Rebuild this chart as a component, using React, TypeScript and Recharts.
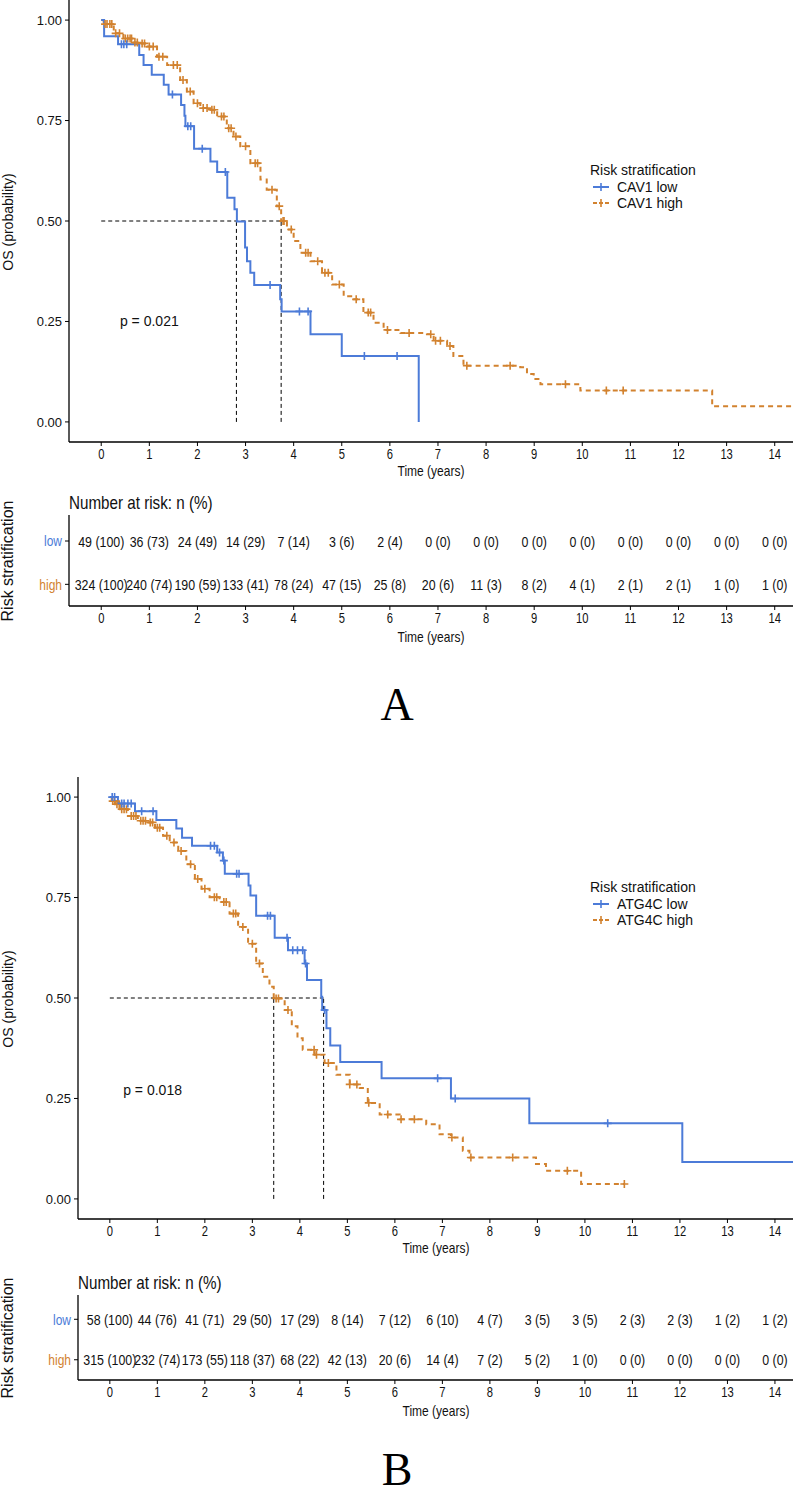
import React from "react";
import { ComposedChart, Line, Scatter, XAxis, YAxis, ReferenceLine, ReferenceDot } from "recharts";

const SANS = "'Liberation Sans', Arial, Helvetica, sans-serif";
const SERIF = "'Liberation Serif', 'Times New Roman', serif";
const SQUEEZE = 0.8; // the reference draws time ticks and the risk table in a narrow face
const BLUE = "#4C7BD8";
const ORANGE = "#D2822F";
const INK = "#111";

const X_TICKS = [0, 1, 2, 3, 4, 5, 6, 7, 8, 9, 10, 11, 12, 13, 14];
const Y_TICKS = [0, 0.25, 0.5, 0.75, 1];
const X_DOMAIN: [number, number] = [-0.67, 14.38];

// ---- Panel A : CAV1 ----
const aLowT = [0, 0.06, 0.35, 0.79, 0.88, 1.05, 1.3, 1.4, 1.66, 1.73, 1.75, 1.93, 2.27, 2.41, 2.62, 2.77, 2.82, 2.99, 3.03, 3.1, 3.18, 3.72, 3.75, 4.35, 5.0, 6.6];
const aLowS = [1, 0.96, 0.94, 0.913, 0.888, 0.864, 0.839, 0.815, 0.789, 0.762, 0.736, 0.68, 0.648, 0.622, 0.558, 0.529, 0.499, 0.434, 0.4, 0.371, 0.341, 0.305, 0.275, 0.218, 0.164, 0];
const aLowCens = [0.42, 0.47, 0.53, 1.48, 1.8, 1.86, 2.1, 2.58, 3.51, 4.12, 4.3, 5.47, 6.15];

const aHighT = [0, 0.05, 0.26, 0.46, 0.67, 0.81, 0.95, 1.16, 1.37, 1.64, 1.78, 1.92, 2.06, 2.27, 2.41, 2.61, 2.75, 2.89, 3.1, 3.31, 3.44, 3.65, 3.74, 3.86, 4.0, 4.14, 4.35, 4.59, 4.8, 5.04, 5.25, 5.45, 5.66, 5.87, 6.22, 6.77, 6.91, 7.19, 7.32, 7.53, 8.71, 8.85, 8.99, 9.13, 9.96, 12.7, 14.38];
const aHighS = [1, 0.99, 0.967, 0.954, 0.944, 0.942, 0.934, 0.909, 0.888, 0.851, 0.822, 0.793, 0.781, 0.777, 0.76, 0.731, 0.71, 0.686, 0.644, 0.603, 0.578, 0.537, 0.5, 0.479, 0.45, 0.421, 0.4, 0.371, 0.342, 0.313, 0.305, 0.272, 0.247, 0.229, 0.221, 0.218, 0.202, 0.189, 0.164, 0.14, 0.136, 0.119, 0.107, 0.094, 0.078, 0.039, 0.039];
const aHighCens = [0.08, 0.12, 0.18, 0.22, 0.3, 0.38, 0.5, 0.55, 0.6, 0.63, 0.7, 0.75, 0.85, 0.9, 1.0, 1.08, 1.2, 1.28, 1.5, 1.58, 1.7, 1.85, 2.0, 2.12, 2.2, 2.3, 2.35, 2.5, 2.55, 2.65, 2.7, 2.8, 3.0, 3.2, 3.25, 3.55, 3.7, 3.78, 3.8, 3.95, 4.25, 4.3, 4.5, 4.65, 4.72, 4.95, 5.3, 5.55, 5.6, 5.95, 6.4, 6.85, 6.95, 7.05, 7.25, 7.6, 8.5, 9.65, 10.5, 10.85];

const aRiskLowN = [49, 36, 24, 14, 7, 3, 2, 0, 0, 0, 0, 0, 0, 0, 0];
const aRiskLowPct = [100, 73, 49, 29, 14, 6, 4, 0, 0, 0, 0, 0, 0, 0, 0];
const aRiskHighN = [324, 240, 190, 133, 78, 47, 25, 20, 11, 8, 4, 2, 2, 1, 1];
const aRiskHighPct = [100, 74, 59, 41, 24, 15, 8, 6, 3, 2, 1, 1, 1, 0, 0];

// ---- Panel B : ATG4C ----
const bLowT = [0, 0.17, 0.53, 0.98, 1.4, 1.52, 1.73, 2.26, 2.38, 2.42, 2.92, 2.96, 3.08, 3.47, 3.75, 4.1, 4.15, 4.45, 4.47, 4.56, 4.64, 4.85, 5.72, 7.18, 8.83, 12.05, 14.38];
const bLowS = [1, 0.984, 0.965, 0.943, 0.922, 0.899, 0.879, 0.862, 0.842, 0.809, 0.78, 0.755, 0.705, 0.65, 0.619, 0.586, 0.545, 0.503, 0.47, 0.425, 0.382, 0.341, 0.3, 0.25, 0.188, 0.092, 0.092];
const bLowCens = [0.05, 0.1, 0.25, 0.3, 0.38, 0.45, 0.67, 0.91, 2.12, 2.2, 2.31, 2.4, 2.67, 2.72, 3.32, 3.38, 3.73, 3.85, 3.95, 4.06, 4.12, 4.52, 6.9, 7.27, 10.48];

const bHighT = [0, 0.04, 0.11, 0.21, 0.38, 0.59, 0.81, 0.95, 1.12, 1.26, 1.44, 1.61, 1.79, 1.93, 2.1, 2.31, 2.52, 2.7, 2.91, 3.08, 3.22, 3.36, 3.45, 3.68, 3.83, 3.95, 4.06, 4.31, 4.52, 4.77, 5.05, 5.26, 5.43, 5.68, 6.1, 6.66, 6.94, 7.18, 7.43, 7.57, 8.97, 9.18, 9.92, 10.83];
const bHighS = [1, 0.99, 0.982, 0.97, 0.953, 0.941, 0.937, 0.924, 0.904, 0.887, 0.866, 0.833, 0.796, 0.772, 0.751, 0.739, 0.71, 0.677, 0.635, 0.586, 0.553, 0.528, 0.499, 0.47, 0.43, 0.4, 0.371, 0.359, 0.338, 0.309, 0.285, 0.276, 0.239, 0.21, 0.198, 0.186, 0.161, 0.153, 0.12, 0.103, 0.087, 0.07, 0.037, 0.037];
const bHighCens = [0.06, 0.1, 0.15, 0.2, 0.25, 0.3, 0.35, 0.45, 0.5, 0.55, 0.65, 0.7, 0.75, 0.85, 0.9, 1.0, 1.05, 1.2, 1.35, 1.5, 1.7, 1.85, 2.0, 2.2, 2.25, 2.4, 2.45, 2.6, 2.65, 2.8, 3.0, 3.15, 3.5, 3.55, 3.75, 4.3, 4.35, 4.6, 5.05, 5.2, 5.45, 5.85, 6.13, 6.41, 7.2, 7.6, 8.48, 9.63, 10.83];

const bRiskLowN = [58, 44, 41, 29, 17, 8, 7, 6, 4, 3, 3, 2, 2, 1, 1];
const bRiskLowPct = [100, 76, 71, 50, 29, 14, 12, 10, 7, 5, 5, 3, 3, 2, 2];
const bRiskHighN = [315, 232, 173, 118, 68, 42, 20, 14, 7, 5, 1, 0, 0, 0, 0];
const bRiskHighPct = [100, 74, 55, 37, 22, 13, 6, 4, 2, 2, 0, 0, 0, 0, 0];

const steps = (ts: number[], ss: number[]) => ts.map((t, i) => ({ t, s: ss[i] }));

// survival value of the step curve at time t (puts censor marks on the curve)
function survAt(ts: number[], ss: number[], t: number) {
  let s = ss[0];
  for (let i = 0; i < ts.length; i++) if (ts[i] <= t) s = ss[i];
  return s;
}
const censors = (ts: number[], ss: number[], cens: number[]) => cens.map((t) => ({ t, s: survAt(ts, ss, t) }));

const plusShape = (color: string) => (props: any) => {
  const { cx, cy } = props;
  if (cx == null || cy == null) return null;
  return <path d={`M${cx - 4},${cy}H${cx + 4}M${cx},${cy - 4}V${cy + 4}`} stroke={color} strokeWidth={1.6} fill="none" />;
};

const axisLine = { stroke: "#000", strokeWidth: 1.3 };

function NarrowText({ x, y, size, fill = INK, anchor = "middle", dy, children }: any) {
  return (
    <text transform={`translate(${x},${y}) scale(${SQUEEZE},1)`} textAnchor={anchor} dy={dy} fontFamily={SANS} fontSize={size} fill={fill}>
      {children}
    </text>
  );
}

const timeTick = (props: any) => (
  <NarrowText x={props.x} y={props.y} size={14} dy="0.72em">
    {props.payload.value}
  </NarrowText>
);

function HtmlText({ cx, cy, size, squeeze = 1, rotate = 0, family = SANS, color = INK, children }: any) {
  return (
    <div
      style={{
        position: "absolute",
        left: cx,
        top: cy,
        transform: `translate(-50%,-50%) rotate(${rotate}deg) scale(${squeeze},1)`,
        fontFamily: family,
        fontSize: size,
        color,
        whiteSpace: "nowrap",
        lineHeight: 1,
      }}
    >
      {children}
    </div>
  );
}

function LegendBox({ top, gene }: { top: number; gene: string }) {
  const row = (color: string, dashed: boolean, text: string) => (
    <div style={{ display: "flex", alignItems: "center", height: 16 }}>
      <svg width={22} height={12} style={{ marginRight: 5 }}>
        <line x1={3} y1={6} x2={19} y2={6} stroke={color} strokeWidth={2} strokeDasharray={dashed ? "4 2" : undefined} />
        <path d="M11,2V10" stroke={color} strokeWidth={1.6} />
      </svg>
      <span>{text}</span>
    </div>
  );
  return (
    <div style={{ position: "absolute", left: 590, top, fontFamily: SANS, fontSize: 14, color: INK, lineHeight: "16px" }}>
      <div style={{ marginBottom: 1 }}>Risk stratification</div>
      {row(BLUE, false, `${gene} low`)}
      {row(ORANGE, true, `${gene} high`)}
    </div>
  );
}

function KMPanel(props: {
  top: number;
  yw: number;
  lowT: number[];
  lowS: number[];
  lowC: number[];
  highT: number[];
  highS: number[];
  highC: number[];
  medLow: number;
  medHigh: number;
  pText: string;
  pT: number;
  pS: number;
}) {
  const { top, yw, lowT, lowS, lowC, highT, highS, highC, medLow, medHigh, pText, pT, pS } = props;
  const medMax = Math.max(medLow, medHigh);
  return (
    <div style={{ position: "absolute", left: 0, top, width: 794, height: 480 }}>
      <ComposedChart width={794} height={474} margin={{ top: 0, right: 1, bottom: 0, left: 0 }}>
        <XAxis
          type="number"
          dataKey="t"
          domain={X_DOMAIN}
          ticks={X_TICKS}
          allowDataOverflow
          height={32}
          tickSize={4}
          tickMargin={3}
          axisLine={axisLine}
          tickLine={{ stroke: "#000" }}
          tick={timeTick}
        />
        <YAxis
          type="number"
          domain={[-0.05, 1.05]}
          ticks={Y_TICKS}
          allowDataOverflow
          width={yw}
          tickSize={4}
          tickMargin={3}
          axisLine={axisLine}
          tickLine={{ stroke: "#000" }}
          tickFormatter={(v: number) => v.toFixed(2)}
          tick={{ fontFamily: SANS, fontSize: 13, fill: INK }}
        />
        <ReferenceLine segment={[{ x: 0, y: 0.5 }, { x: medMax, y: 0.5 }]} stroke="#000" strokeDasharray="4 3" strokeWidth={1} />
        <ReferenceLine segment={[{ x: medLow, y: 0 }, { x: medLow, y: 0.5 }]} stroke="#000" strokeDasharray="4 3" strokeWidth={1} />
        <ReferenceLine segment={[{ x: medHigh, y: 0 }, { x: medHigh, y: 0.5 }]} stroke="#000" strokeDasharray="4 3" strokeWidth={1} />
        <Line data={steps(highT, highS)} dataKey="s" type="stepAfter" stroke={ORANGE} strokeWidth={2} strokeDasharray="5 4" dot={false} isAnimationActive={false} />
        <Line data={steps(lowT, lowS)} dataKey="s" type="stepAfter" stroke={BLUE} strokeWidth={2} dot={false} isAnimationActive={false} />
        <Scatter data={censors(highT, highS, highC)} dataKey="s" shape={plusShape(ORANGE)} isAnimationActive={false} />
        <Scatter data={censors(lowT, lowS, lowC)} dataKey="s" shape={plusShape(BLUE)} isAnimationActive={false} />
        <ReferenceDot x={pT} y={pS} r={0} label={{ value: pText, position: "center", style: { fontFamily: SANS, fontSize: 14, fill: INK } }} />
      </ComposedChart>
      <HtmlText cx={8} cy={222} size={14} rotate={-90}>OS (probability)</HtmlText>
      <HtmlText cx={(yw + 793) / 2} cy={470} size={15} squeeze={SQUEEZE}>Time (years)</HtmlText>
    </div>
  );
}

const riskRow = (ns: number[], pcts: number[], row: number) => ns.map((n, i) => ({ t: X_TICKS[i], row, label: `${n} (${pcts[i]})` }));

const riskText = (props: any) => {
  const { cx, cy, payload } = props;
  if (cx == null) return null;
  return (
    <NarrowText x={cx} y={cy} size={15.5} dy="0.36em">
      {payload.label}
    </NarrowText>
  );
};

const groupTick = (props: any) => {
  const { x, y, payload } = props;
  const isLow = payload.value === 2;
  return (
    <NarrowText x={x} y={y} size={15} anchor="end" dy="0.36em" fill={isLow ? BLUE : ORANGE}>
      {isLow ? "low" : "high"}
    </NarrowText>
  );
};

function RiskTable(props: { top: number; yw: number; plotH: number; lowN: number[]; lowP: number[]; highN: number[]; highP: number[] }) {
  const { top, yw, plotH, lowN, lowP, highN, highP } = props;
  return (
    <div style={{ position: "absolute", left: 0, top, width: 794, height: plotH + 40 }}>
      <ComposedChart width={794} height={plotH + 34} margin={{ top: 0, right: 1, bottom: 0, left: 0 }}>
        <XAxis
          type="number"
          dataKey="t"
          domain={X_DOMAIN}
          ticks={X_TICKS}
          allowDataOverflow
          height={34}
          tickSize={4}
          tickMargin={3}
          axisLine={axisLine}
          tickLine={{ stroke: "#000" }}
          tick={timeTick}
        />
        <YAxis
          type="number"
          domain={[0.5, 2.6]}
          ticks={[1, 2]}
          allowDataOverflow
          width={yw}
          tickSize={4}
          tickMargin={3}
          axisLine={axisLine}
          tickLine={{ stroke: "#000" }}
          tick={groupTick}
        />
        <Scatter data={riskRow(lowN, lowP, 2)} dataKey="row" shape={riskText} isAnimationActive={false} />
        <Scatter data={riskRow(highN, highP, 1)} dataKey="row" shape={riskText} isAnimationActive={false} />
      </ComposedChart>
      <div
        style={{
          position: "absolute",
          left: yw,
          top: -22,
          transform: `scale(${SQUEEZE},1)`,
          transformOrigin: "0 0",
          fontFamily: SANS,
          fontSize: 19,
          color: INK,
          whiteSpace: "nowrap",
          lineHeight: 1,
        }}
      >
        Number at risk: n (%)
      </div>
      <HtmlText cx={8} cy={plotH / 2} size={16} rotate={-90}>Risk stratification</HtmlText>
      <HtmlText cx={(yw + 793) / 2} cy={plotH + 30} size={15} squeeze={SQUEEZE}>Time (years)</HtmlText>
    </div>
  );
}

export default function App() {
  return (
    <div style={{ position: "absolute", left: 0, top: 0, width: 794, height: 1500, background: "#fff", overflow: "hidden" }}>
      <KMPanel
        top={0}
        yw={69}
        lowT={aLowT}
        lowS={aLowS}
        lowC={aLowCens}
        highT={aHighT}
        highS={aHighS}
        highC={aHighCens}
        medLow={2.81}
        medHigh={3.74}
        pText="p = 0.021"
        pT={1.0}
        pS={0.25}
      />
      <LegendBox top={162} gene="CAV1" />
      <RiskTable top={515} yw={69} plotH={91} lowN={aRiskLowN} lowP={aRiskLowPct} highN={aRiskHighN} highP={aRiskHighPct} />
      <HtmlText cx={397} cy={705} size={46} family={SERIF} color="#000">A</HtmlText>

      <KMPanel
        top={777}
        yw={78}
        lowT={bLowT}
        lowS={bLowS}
        lowC={bLowCens}
        highT={bHighT}
        highS={bHighS}
        highC={bHighCens}
        medLow={4.5}
        medHigh={3.45}
        pText="p = 0.018"
        pT={0.9}
        pS={0.27}
      />
      <LegendBox top={879} gene="ATG4C" />
      <RiskTable top={1295} yw={78} plotH={85} lowN={bRiskLowN} lowP={bRiskLowPct} highN={bRiskHighN} highP={bRiskHighPct} />
      <HtmlText cx={397} cy={1470} size={46} family={SERIF} color="#000">B</HtmlText>
    </div>
  );
}
